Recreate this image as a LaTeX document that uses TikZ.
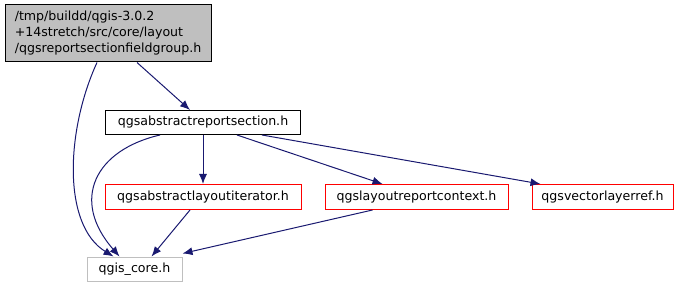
\documentclass[tikz,border=0pt]{standalone}
\usepackage{fontspec}
\setmainfont{DejaVu Sans}
\usetikzlibrary{arrows.meta}

\definecolor{edgeblue}{RGB}{25,25,112}
\definecolor{boxgray}{RGB}{191,191,191}

\begin{document}
\begin{tikzpicture}[x=1pt, y=-1pt,
        file/.style={draw=red, line width=1pt, minimum height=25pt, inner sep=0pt,
                     font=\fontsize{12.6}{16}\selectfont},
        dep/.style={draw=edgeblue, line width=1pt, -{Latex[length=10pt,width=8pt]}}]
  \useasboundingbox (0,0) rectangle (682,291);

  \node[file, draw=black, fill=boxgray, minimum width=206pt, minimum height=57pt,
        align=left] (top) at (108,33.5)
        {/tmp/buildd/qgis-3.0.2\\+14stretch/src/core/layout\\/qgsreportsectionfieldgroup.h};
  \node[file, draw=black, minimum width=195pt, minimum height=24pt] (ars) at (203,122.5) {qgsabstractreportsection.h};
  \node[file, minimum width=196pt] (ali) at (203,197) {qgsabstractlayoutiterator.h};
  \node[file, minimum width=183pt] (lrc) at (416.5,197) {qgslayoutreportcontext.h};
  \node[file, minimum width=141pt] (vlr) at (602.5,197) {qgsvectorlayerref.h};
  \node[file, draw=boxgray, minimum width=95pt, minimum height=24pt] (core) at (134.5,269) {qgis\_core.h};

  \draw[dep] ([xshift=29]top.south) -- ([xshift=-13]ars.north);
  \draw[dep] ([xshift=-11]top.south) .. controls (66,130) and (62,225) .. ([xshift=-21]core.north);
  \draw[dep] ([xshift=-43]ars.south) .. controls (95,150) and (70,200) .. ([xshift=-15]core.north);
  \draw[dep] (ars.south) -- (ali.north);
  \draw[dep] ([xshift=34]ars.south) -- ([xshift=-34]lrc.north);
  \draw[dep] ([xshift=59]ars.south) -- ([xshift=-62]vlr.north);
  \draw[dep] ([xshift=-13]ali.south) -- ([xshift=17]core.north);
  \draw[dep] ([xshift=-44]lrc.south) -- ([yshift=3]core.north east);
\end{tikzpicture}
\end{document}
